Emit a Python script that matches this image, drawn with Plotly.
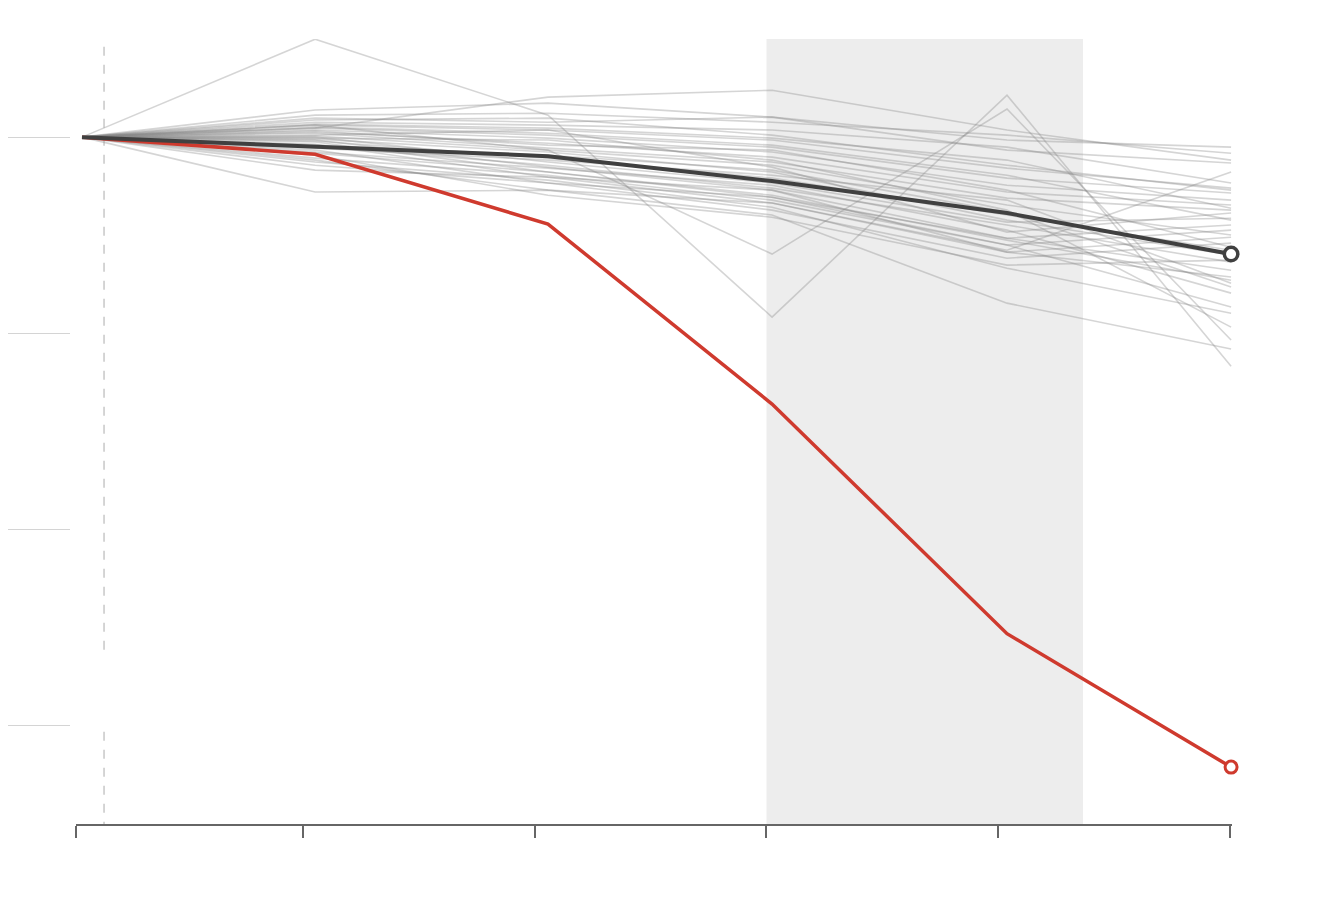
import plotly.graph_objects as go

# x positions of observations (unlabeled years)
x_points = [2019.046, 2020.052, 2021.057, 2022.024, 2023.038, 2024.005]
tick_positions = [2019.02, 2020, 2021, 2022, 2023, 2024]
grid_values = [0, -10, -20, -30]
shade_start = 2022.0
shade_end = 2023.366
marker_line_x = 2019.141

# highlighted series
red_values = [0, -0.87, -4.43, -13.6, -25.3, -32.1]
avg_values = [0, -0.46, -0.97, -2.24, -3.87, -5.96]

# background series
g01 = [0, 4.99, 1.12, -9.17, 2.14, -11.67]
g02 = [0, 0.61, -0.66, -5.96, 1.43, -10.34]
g03 = [0, -2.80, -2.70, -3.97, -8.46, -10.80]
g04 = [0, 0.46, 2.04, 2.39, 0.36, -1.17]
g05 = [0, 1.38, 1.73, 1.02, -0.15, -0.51]
g06 = [0, 1.12, 1.22, 0.76, 0.10, -0.82]
g07 = [0, 0.97, 0.76, 1.02, -0.66, -1.32]
g08 = [0, 0.76, 0.61, 0.36, -0.51, -2.34]
g09 = [0, 0.61, 0.36, -0.15, -1.58, -2.60]
g10 = [0, 0.46, 0.10, -0.51, -2.09, -2.85]
g11 = [0, 0.36, -0.05, -0.76, -2.45, -3.21]
g12 = [0, 0.25, -0.31, -1.02, -2.80, -3.46]
g13 = [0, 0.20, -0.56, -1.27, -3.11, -3.72]
g14 = [0, 0.10, 0.36, -1.53, -4.84, -3.87]
g15 = [0, 0.00, -1.27, -2.34, -4.33, -4.13]
g16 = [0, -0.15, -1.53, -2.70, -5.15, -4.48]
g17 = [0, -0.25, -1.78, -3.06, -5.50, -4.74]
g18 = [0, -0.36, -2.04, -3.36, -5.86, -5.10]
g19 = [0, -0.66, -2.34, -3.72, -6.17, -5.40]
g20 = [0, -0.92, -2.96, -4.08, -6.52, -6.27]
g21 = [0, -1.17, -2.70, -3.36, -5.76, -1.78]
g22 = [0, -1.43, -2.34, -3.06, -5.15, -6.78]
g23 = [0, -1.68, -2.04, -2.70, -5.86, -7.13]
g24 = [0, -0.56, -1.17, -1.94, -3.21, -7.44]
g25 = [0, -0.41, -0.92, -1.68, -3.82, -7.64]
g26 = [0, -0.76, -1.58, -2.45, -4.74, -7.95]
g27 = [0, -1.07, -1.94, -3.21, -5.50, -8.66]
g28 = [0, -1.27, -2.19, -3.57, -6.68, -8.97]
g29 = [0, -0.05, -0.15, -1.17, -3.72, -9.68]
g30 = [0, 0.87, 0.97, 0.10, -1.43, -2.70]
g31 = [0, 0.51, 0.20, -0.41, -1.94, -4.23]
g32 = [0, 0.05, -0.66, -1.43, -3.46, -4.99]
g33 = [0, -0.20, -1.07, -2.09, -3.97, -5.76]
g34 = [0, -0.46, -1.43, -2.60, -4.48, -6.37]
g35 = [0, 0.31, -0.41, -0.66, -2.70, -5.61]
g36 = [0, -0.82, -1.78, -2.96, -5.25, -7.29]
g37 = [0, 0.66, 0.46, -0.05, -1.17, -3.62]
g38 = [0, -0.10, -0.76, -1.78, -4.23, -6.01]

gray_series = [g01, g02, g03, g04, g05, g06, g07, g08, g09, g10,
               g11, g12, g13, g14, g15, g16, g17, g18, g19, g20,
               g21, g22, g23, g24, g25, g26, g27, g28, g29, g30,
               g31, g32, g33, g34, g35, g36, g37, g38]

RED = "#cf3a2e"
DARK = "#404040"

fig = go.Figure()

for s in gray_series:
    fig.add_trace(go.Scatter(
        x=x_points, y=s, mode="lines",
        line=dict(color="rgba(135,135,135,0.35)", width=1.6),
        hoverinfo="skip", showlegend=False))

fig.add_trace(go.Scatter(x=x_points, y=red_values, mode="lines",
                         line=dict(color=RED, width=3.5), showlegend=False))
fig.add_trace(go.Scatter(x=x_points, y=avg_values, mode="lines",
                         line=dict(color=DARK, width=4), showlegend=False))
fig.add_trace(go.Scatter(x=[x_points[-1]], y=[red_values[-1]], mode="markers",
                         marker=dict(size=12, color="white", line=dict(color=RED, width=3)),
                         cliponaxis=False, showlegend=False))
fig.add_trace(go.Scatter(x=[x_points[-1]], y=[avg_values[-1]], mode="markers",
                         marker=dict(size=13.5, color="white", line=dict(color=DARK, width=3.5)),
                         cliponaxis=False, showlegend=False))

# shaded period
fig.add_shape(type="rect", xref="x", yref="paper", x0=shade_start, x1=shade_end,
              y0=0, y1=1, fillcolor="#ededed", line=dict(width=0), layer="below")
# dashed reference line (with gap)
fig.add_shape(type="line", xref="x", yref="y", x0=marker_line_x, x1=marker_line_x,
              y0=4.6, y1=-26.4, line=dict(color="#c8c8c8", width=1.5, dash="dash"), layer="below")
fig.add_shape(type="line", xref="x", yref="y", x0=marker_line_x, x1=marker_line_x,
              y0=-30.3, y1=-35, line=dict(color="#c8c8c8", width=1.5, dash="dash"), layer="below")

fig.update_layout(
    width=1320, height=910,
    margin=dict(l=62, r=96, t=31, b=94),
    paper_bgcolor="white", plot_bgcolor="white",
    showlegend=False,
    xaxis=dict(range=[2019.02, 2024.009], domain=[0.00516, 1],
               tickvals=tick_positions, showticklabels=False,
               ticks="outside", ticklen=12, tickwidth=1.5, tickcolor="#666",
               showline=True, linecolor="#666", linewidth=2,
               showgrid=False, zeroline=False, automargin=False),
    yaxis=dict(range=[-35, 5], anchor="free", position=0,
               tickvals=grid_values, showticklabels=False,
               ticks="outside", ticklen=62, tickwidth=1, tickcolor="#d4d4d4",
               showline=False, showgrid=False, zeroline=False, automargin=False),
)

fig.write_html("out.html")
